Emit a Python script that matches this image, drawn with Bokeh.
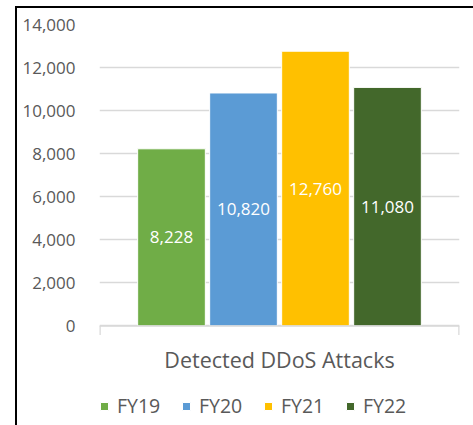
from bokeh.plotting import figure
from bokeh.models import (ColumnDataSource, Range1d, FixedTicker, Span, Label,
                          NumeralTickFormatter, Legend, LegendItem, LabelSet)
from bokeh.core.properties import value
from bokeh.embed import file_html
from bokeh.resources import INLINE

years = ["FY19", "FY20", "FY21", "FY22"]
attacks = [8228, 10820, 12760, 11080]
colors = ["#70AD47", "#5B9BD5", "#FFC000", "#43682B"]
category = "Detected DDoS Attacks"
y_ticks = [0, 2000, 4000, 6000, 8000, 10000, 12000, 14000]

FONT = "Open Sans"
GRAY = "#595959"
LINE = "#D9D9D9"

# layout constants (pixels)
CANVAS_W, CANVAS_H = 453, 417
LEFT, RIGHT, TOP = 82, 20, 16
VALUE_H = 300                      # height of the 0..14,000 value area
FRAME_H = CANVAS_H - TOP           # frame runs to the bottom so the legend fits inside
TICK_PX = 9

pos = list(range(len(years)))
src = ColumnDataSource(dict(
    pos=pos, year=years, attacks=attacks, color=colors,
    mid=[v / 2 for v in attacks],
    label=[f"{v:,}" for v in attacks],
))

x_lo, x_hi = -1, len(years)
y_top = y_ticks[-1]
per_px = y_top / VALUE_H
y_lo = -(FRAME_H - VALUE_H) * per_px

p = figure(width=CANVAS_W + 9, height=CANVAS_H + 2,
           x_range=Range1d(x_lo, x_hi), y_range=Range1d(y_lo, y_top),
           x_axis_location=None, output_backend="svg", toolbar_location=None,
           min_border_left=LEFT, min_border_right=RIGHT, min_border_top=TOP, min_border_bottom=0)
p.styles = {"border": "2px solid #000", "border-bottom": "none",
            "margin-left": "15px", "margin-top": "6px"}
p.outline_line_color = None
p.background_fill_color = "white"
p.border_fill_color = "white"

bars = p.vbar(x="pos", top="attacks", bottom=0, width=0.94, source=src,
              fill_color="color", line_color="white", line_width=1)

labels = LabelSet(x="pos", y="mid", text="label", source=src,
                  text_color="white", text_font=value(FONT), text_font_size="17px",
                  text_align="center", text_baseline="middle")
p.add_layout(labels)

# y axis
yax = p.yaxis[0]
yax.ticker = FixedTicker(ticks=y_ticks)
yax.formatter = NumeralTickFormatter(format="0,0")
yax.axis_line_color = None
yax.major_tick_line_color = None
yax.minor_tick_line_color = None
yax.major_label_standoff = 18
yax.major_label_text_font = FONT
yax.major_label_text_font_size = "17px"
yax.major_label_text_color = GRAY

p.xgrid.grid_line_color = None
p.ygrid.grid_line_color = LINE
p.ygrid.grid_line_width = 1.5
p.ygrid.ticker = FixedTicker(ticks=y_ticks)

# category axis: line at zero, ticks at the category boundaries, category name
p.add_layout(Span(location=0, dimension="width", line_color=LINE, line_width=1.5))
p.segment(x0=[x_lo, x_hi], x1=[x_lo, x_hi], y0=[0, 0], y1=[-TICK_PX * per_px] * 2,
          line_color=LINE, line_width=2.5)
p.add_layout(Label(x=(x_lo + x_hi) / 2, y=0, y_offset=-34, text=category,
                   text_font=FONT, text_font_size="21.5px", text_color=GRAY,
                   text_align="center", text_baseline="middle"))

items = [LegendItem(label=y, renderers=[bars], index=i) for i, y in enumerate(years)]
legend = Legend(items=items, orientation="horizontal", location=(0, 8),
                label_text_font=FONT, label_text_font_size="19.5px", label_text_color=GRAY,
                glyph_width=10, glyph_height=10, label_standoff=8, label_width=44,
                spacing=20, padding=0, margin=0, border_line_color=None,
                background_fill_alpha=0)
p.add_layout(legend, "center")

open("out.html", "w").write(file_html(p, INLINE))
